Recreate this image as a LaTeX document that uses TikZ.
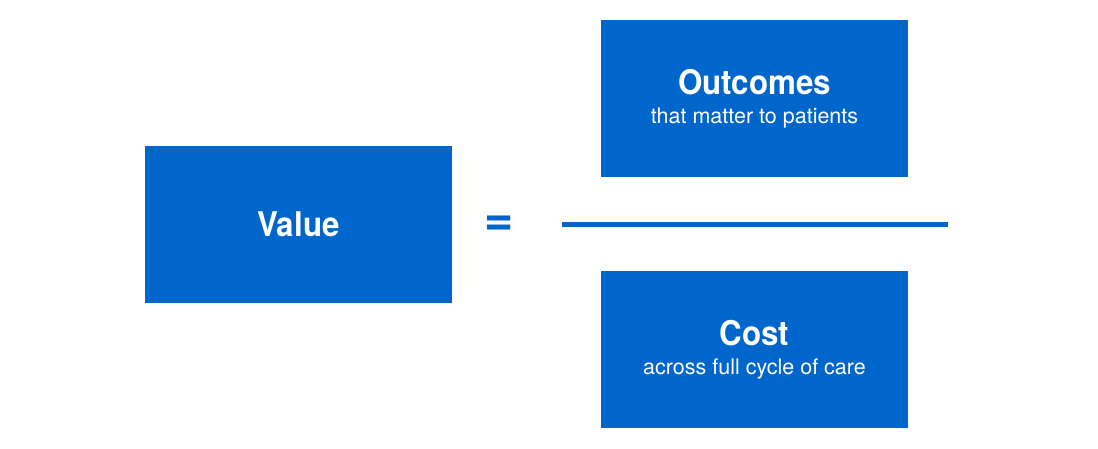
\documentclass[tikz,border=0pt]{standalone}
\usepackage{fontspec}
\setmainfont{TeX Gyre Heros}
\newfontfamily\headfont[FakeStretch=0.92]{TeX Gyre Heros}
\usepackage{xcolor}
\usepackage{tikz}
\usetikzlibrary{positioning}
\definecolor{boxblue}{HTML}{0066CC}
\tikzset{term/.style = {fill=boxblue, text=white, align=center, inner sep=0pt,
                        minimum width=307pt, minimum height=157pt}}
\newcommand{\headtext}{\headfont\bfseries\fontsize{34}{38}\selectfont}
\newcommand{\subtext}{\fontsize{21.5}{24}\selectfont}

\begin{document}
\begin{tikzpicture}[x=1pt,y=1pt,node distance=94pt]
            \useasboundingbox (0,0) rectangle (1098,-449);
            \node[term] (value) at (298.5,-224.5) {\headtext Value};
            \node[term] (outcomes) at (754.5,-98.5) {{\headtext Outcomes}\\[12pt]{\subtext that matter to patients}};
            \node[term] (cost) [below=of outcomes] {{\headtext Cost}\\[12pt]{\subtext across full cycle of care}};
            \node[text=boxblue, font=\bfseries\fontsize{50}{50}\selectfont, inner sep=0pt] (equals) at (499.5,-225.5) {=};

            % fraction bar
            \coordinate (barleft) at (562,-224.5);
            \coordinate (barright) at (948,-224.5);
            \draw[boxblue, line width=4.5pt] (barleft) -- (barright);
        \end{tikzpicture}
\end{document}
